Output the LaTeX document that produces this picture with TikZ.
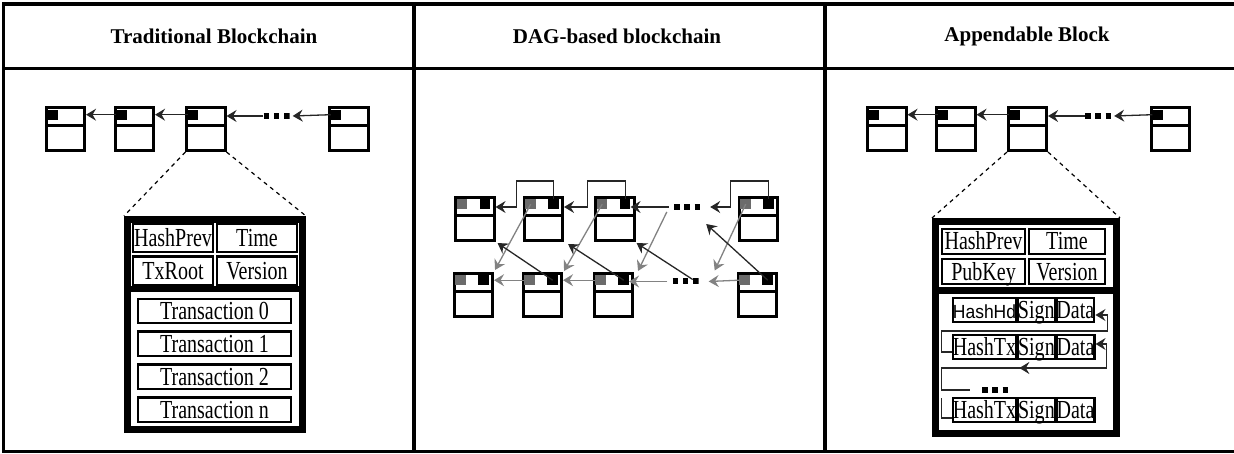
\documentclass[tikz,border=0pt]{standalone}
\usepackage{fontspec}
\setmainfont{Liberation Serif}
\newfontfamily\cellfont{Liberation Serif}[FakeStretch=0.77]
\newfontfamily\cellsans{Liberation Sans}[FakeStretch=0.92]
\usetikzlibrary{positioning, arrows.meta, calc}
\definecolor{DagGray}{HTML}{6B6B6B}
\definecolor{LinkGray}{HTML}{828282}
\definecolor{Black85}{HTML}{262626}

\begin{document}
\begin{tikzpicture}[x=1pt, y=-1pt,
    rule/.style={line width=3.4pt},
    colhead/.style={font=\bfseries\fontsize{21}{21}\selectfont},
    blk/.style={draw, line width=2.6pt, minimum width=38.5pt, minimum height=43.5pt, inner sep=0pt,
        path picture={\draw[line width=2.6pt] ([yshift=-18.5pt]path picture bounding box.north west) -- ([yshift=-18.5pt]path picture bounding box.north east);}},
    sq/.style={fill=black, minimum width=10.5pt, minimum height=10pt, inner sep=0pt},
    gsq/.style={sq, fill=DagGray},
    dotsq/.style={minimum width=26pt, minimum height=5.5pt, inner sep=0pt,
        path picture={\draw[line width=6pt, dash pattern=on 5.5pt off 4.75pt] (path picture bounding box.west) -- (path picture bounding box.east);}},
    link/.style={line width=1.3pt, Black85},
    arr/.style={link, -{Stealth[length=10pt, width=12pt, inset=3.5pt]}},
    garr/.style={arr, LinkGray},
    zoomln/.style={line width=1.2pt, dash pattern=on 4pt off 4pt},
    detail/.style={draw, line width=7pt, inner sep=0pt},
    hcell/.style={draw, line width=2.4pt, inner sep=0pt, minimum height=28.1pt, text height=17pt, text depth=0pt, font=\cellfont\fontsize{26}{26}\selectfont},
    tcell/.style={hcell, minimum width=152.5pt, minimum height=24.5pt},
    rcell/.style={hcell, minimum height=23.6pt}
]
\useasboundingbox (0,0) rectangle (1234,454);

% Table
\draw[rule] (1240,4) -- (3.5,4) -- (3.5,451.3) -- (1240,451.3);
\draw[rule] (3.5,68.7) -- (1240,68.7);
\draw[rule] (414,4) -- (414,451.3);
\draw[rule] (825,4) -- (825,451.3);
\node[colhead] (head1) at (214,36) {Traditional Blockchain};
\node[colhead] (head2) at (617,36) {DAG-based blockchain};
\node[colhead] (head3) at (1027,36) {Appendable Block};

% Traditional chain
\foreach \n/\x in {1/65.5, 2/134.5, 3/206, 4/349} {
  \node[blk] (a\n) at (\x,129) {};
  \node[sq] (as\n) at ([xshift=7.75pt, yshift=-8.75pt]a\n.north west) {};
}
\node[dotsq] (ad) at (276.5,116) {};
\draw[arr] (as2.west) -- (as2.west -| a1.east);
\draw[arr] (as3.west) -- (as3.west -| a2.east);
\draw[arr] (ad.west) -- (ad.west -| a3.east);
\draw[arr] (as4.west) -- ([xshift=3pt]ad.east);

% Traditional block content
\node[detail, minimum width=175pt, minimum height=210pt] (tb) at (215,324.5) {};
\draw[zoomln] (a3.south west) -- (tb.north west);
\draw[zoomln] (a3.south east) -- (tb.north east);
\node[hcell, minimum width=79.6pt] (hp1) at (173,238.25) {HashPrev};
\node[hcell, minimum width=79.6pt, right=2pt of hp1] (tm1) {Time};
\node[hcell, minimum width=79.6pt, below=2pt of hp1] (tr1) {TxRoot};
\node[hcell, minimum width=79.6pt, right=2pt of tr1] (vr1) {Version};
\draw[line width=6pt] ($(tr1.south -| tb.west)+(0,3)$) -- ($(tr1.south -| tb.east)+(0,3)$);
\node[tcell] (tx0) at (214.5,311) {Transaction 0};
\node[tcell, below=6pt of tx0] (tx1) {Transaction 1};
\node[tcell, below=6pt of tx1] (tx2) {Transaction 2};
\node[tcell, below=6pt of tx2] (tx3) {Transaction n};

% DAG upper row
\foreach \n/\x in {1/475, 2/543.5, 3/615, 4/758.5} {
  \node[blk] (u\n) at (\x,219) {};
  \node[gsq] (ug\n) at ([xshift=7.75pt, yshift=-8.25pt]u\n.north west) {};
  \node[sq] (uk\n) at ([xshift=30.75pt, yshift=-8.25pt]u\n.north west) {};
}
\node[dotsq] (ud) at (687,207) {};
% DAG lower row
\foreach \n/\x in {1/473.5, 2/542.5, 3/613.5, 4/757.5} {
  \node[blk] (l\n) at (\x,295) {};
  \node[gsq] (lg\n) at ([xshift=7.75pt, yshift=-8.25pt]l\n.north west) {};
  \node[sq] (lk\n) at ([xshift=30.75pt, yshift=-8.25pt]l\n.north west) {};
}
\node[dotsq] (ld) at (685.5,281.5) {};

% DAG links, upper row
\draw[arr] (uk2.north) -- ++(0,-18) -- ++(-37,0) |- ([yshift=12pt]u1.east);
\draw[arr] (uk3.north) -- ++(0,-18) -- ++(-38,0) |- ([yshift=12pt]u2.east);
\draw[arr] (uk4.north) -- ++(0,-18) -- ++(-38,0) |- ([xshift=10pt]ud.east);
\draw[arr] ([xshift=-5pt]ud.west) -- ([xshift=-5pt]ud.west -| u3.east);
% DAG links, lower row
\draw[garr] (lg2.west) -- (lg2.west -| l1.east);
\draw[garr] (lg3.west) -- (lg3.west -| l2.east);
\draw[garr] ([xshift=-5pt]ld.west) -- ([xshift=-5pt]ld.west -| l3.east);
\draw[garr] (lg4.west) -- ([xshift=10pt]ld.east);
% DAG links, across
\draw[garr] (ug2.center) -- ([xshift=1pt, yshift=2pt]l1.north east);
\draw[garr] (ug3.center) -- ([xshift=1pt, yshift=1pt]l2.north east);
\draw[garr] ([xshift=-7pt, yshift=-5pt]ud.west) -- ([xshift=4pt, yshift=1pt]l3.north east);
\draw[garr] (ug4.center) -- ([xshift=16pt, yshift=11pt]ld.east);
\draw[arr] (lk2.center) -- ([xshift=2pt, yshift=-1pt]u1.south east);
\draw[arr] (lk3.center) -- ([xshift=4pt, yshift=-2pt]u2.south east);
\draw[arr] ([xshift=-6pt, yshift=2pt]ld.east) -- ([xshift=1pt, yshift=-1pt]u3.south east);
\draw[arr] (lk4.center) -- ([xshift=6pt, yshift=-17pt]ud.east);

% Appendable chain
\foreach \n/\x in {1/887, 2/956, 3/1027.5, 4/1170.5} {
  \node[blk] (c\n) at (\x,129) {};
  \node[sq] (cs\n) at ([xshift=7.75pt, yshift=-8.75pt]c\n.north west) {};
}
\node[dotsq] (cd) at (1098,116) {};
\draw[arr] (cs2.west) -- (cs2.west -| c1.east);
\draw[arr] (cs3.west) -- (cs3.west -| c2.east);
\draw[arr] (cd.west) -- (cd.west -| c3.east);
\draw[arr] (cs4.west) -- ([xshift=3pt]cd.east);

% Appendable block content
\node[detail, minimum width=181pt, minimum height=212pt] (ab) at (1026,327.5) {};
\draw[zoomln] (c3.south west) -- (ab.north west);
\draw[zoomln] (c3.south east) -- (ab.north east);
\node[hcell, minimum width=82.6pt, minimum height=24.6pt] (hp3) at (983.5,241.5) {HashPrev};
\node[hcell, minimum width=75.6pt, minimum height=24.6pt, right=2pt of hp3] (tm3) {Time};
\node[hcell, minimum width=82.6pt, minimum height=24.6pt, below=3pt of hp3] (pk3) {PubKey};
\node[hcell, minimum width=75.6pt, minimum height=24.6pt, right=2pt of pk3] (vr3) {Version};
\draw[line width=7pt] ($(pk3.south -| ab.west)+(0,6)$) -- ($(pk3.south -| ab.east)+(0,6)$);
\node[rcell, minimum width=62.6pt, font=\cellsans\fontsize{19}{19}\selectfont] (hh1) at (984.5,310) {HashHd};
\node[rcell, minimum width=37.6pt, right=-1pt of hh1] (sg1) {Sign};
\node[rcell, minimum width=37.6pt, right=-1pt of sg1] (da1) {Data};
\node[rcell, minimum width=62.6pt, below=11pt of hh1] (hx2) {HashTx};
\node[rcell, minimum width=37.6pt, right=-1pt of hx2] (sg2) {Sign};
\node[rcell, minimum width=37.6pt, right=-1pt of sg2] (da2) {Data};
\node[dotsq] (dt3) at (995,390) {};
\node[rcell, minimum width=62.6pt, below=37pt of hx2] (hx3) {HashTx};
\node[rcell, minimum width=37.6pt, right=-1pt of hx3] (sg3) {Sign};
\node[rcell, minimum width=37.6pt, right=-1pt of sg3] (da3) {Data};

% Transaction links
\draw[arr] ([yshift=-5pt]hx2.west) -- ++(-10,0) -- ++(0,-21) -| ([xshift=12pt, yshift=-5pt]da1.east) -- ([yshift=-5pt]da1.east);
\draw[arr] ([xshift=-12pt]dt3.west) -- ++(-28,0) -- ++(0,-22) coordinate (k1) -- ++(165,0) coordinate (k2) |- ([yshift=3pt]da2.east);
\draw[arr] (k2) -- ($(k1)!0.47!(k2)$);
\draw[link] ([yshift=-8pt]hx3.west) -- ++(-10,0) -- ++(0,-20);

\end{tikzpicture}
\end{document}
